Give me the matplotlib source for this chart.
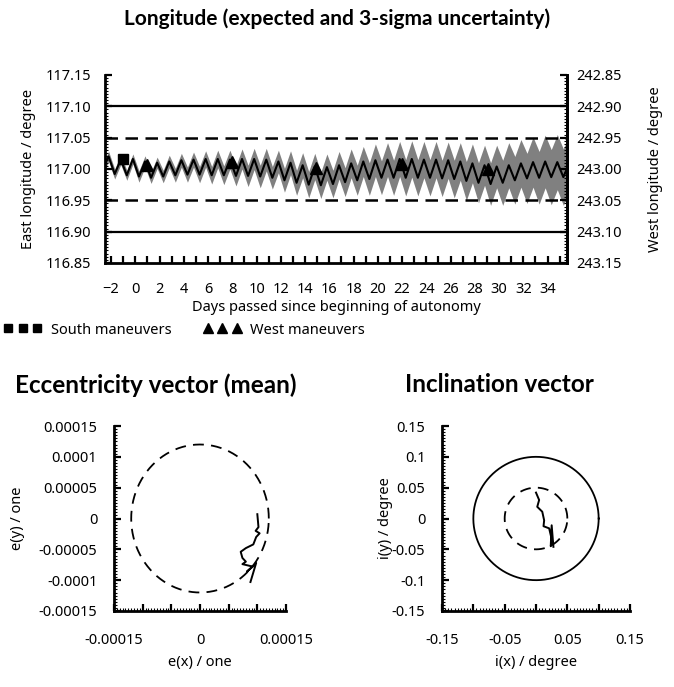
import matplotlib
matplotlib.use("Agg")
import matplotlib.pyplot as plt
import numpy as np
from matplotlib.lines import Line2D
from matplotlib.ticker import MultipleLocator, FixedLocator, FixedFormatter

plt.rcParams['font.family'] = ['Noto Sans', 'DejaVu Sans']

# ---------------- data ----------------
days = list(range(-3, 36))
line_peak = [117.020, 117.015, 117.016, 117.012, 117.010, 117.012, 117.014, 117.015,
             117.016, 117.016, 117.015, 117.016, 117.016, 117.015, 117.012, 117.010,
             117.006, 117.004, 117.003, 117.006, 117.009, 117.012, 117.014, 117.015,
             117.016, 117.016, 117.015, 117.015, 117.014, 117.012, 117.009, 117.006,
             117.004, 117.006, 117.009, 117.011, 117.012, 117.011, 117.010]
line_trough = [117.000, 116.992, 116.990, 116.988, 116.986, 116.988, 116.990, 116.991,
               116.991, 116.990, 116.990, 116.989, 116.989, 116.988, 116.986, 116.982,
               116.978, 116.975, 116.974, 116.976, 116.979, 116.982, 116.984, 116.986,
               116.986, 116.986, 116.986, 116.986, 116.985, 116.984, 116.981, 116.978,
               116.976, 116.978, 116.982, 116.985, 116.986, 116.987, 116.987]
half_width = [0.008, 0.008, 0.008, 0.009, 0.009, 0.010, 0.011, 0.012, 0.013, 0.014,
              0.015, 0.016, 0.017, 0.018, 0.018, 0.019, 0.020, 0.021, 0.021, 0.022,
              0.023, 0.024, 0.026, 0.027, 0.028, 0.029, 0.029, 0.029, 0.029, 0.030,
              0.031, 0.032, 0.034, 0.036, 0.038, 0.040, 0.042, 0.044, 0.045]

south_days = [-1.0]
south_lon = [117.016]
west_days = [0.94, 7.97, 14.94, 22.03, 29.08]
west_lon = [117.006, 117.011, 117.001, 117.008, 117.000]

box_limits = [117.10, 116.90]
dead_band = [117.05, 116.95]

ecc_x = [1.00e-4, 1.02e-4, 0.97e-4, 1.04e-4, 0.98e-4, 0.93e-4, 0.80e-4, 0.71e-4,
         0.74e-4, 0.80e-4, 0.74e-4, 0.92e-4, 0.82e-4, 0.98e-4, 0.88e-4]
ecc_y = [0.07e-4, -0.14e-4, -0.20e-4, -0.24e-4, -0.30e-4, -0.42e-4, -0.48e-4, -0.54e-4,
         -0.64e-4, -0.70e-4, -0.74e-4, -0.78e-4, -0.86e-4, -0.72e-4, -1.03e-4]
ecc_radius = 1.2e-4

inc_x = [0.000, 0.005, 0.002, 0.010, 0.013, 0.012, 0.021, 0.0235, 0.026, 0.0235,
         0.025, 0.0278]
inc_y = [0.042, 0.030, 0.019, 0.011, -0.003, -0.0125, -0.016, -0.027, -0.038, -0.045,
         -0.011, -0.046]
inc_radius_outer = 0.10
inc_radius_inner = 0.05

lon_yticklabels = ['116.85', '116.90', '116.95', '117.00', '117.05', '117.10', '117.15']
west_yticklabels = ['243.15', '243.10', '243.05', '243.00', '242.95', '242.90', '242.85']
ecc_yticklabels = ['-0.00015', '-0.0001', '-0.00005', '0', '0.00005', '0.0001', '0.00015']
ecc_xticklabels = ['-0.00015', '', '', '0', '', '', '0.00015']
inc_yticklabels = ['-0.15', '-0.1', '-0.05', '0', '0.05', '0.1', '0.15']
inc_xticklabels = ['-0.15', '', '-0.05', '', '0.05', '', '0.15']

# ---------------- figure ----------------
W, H = 674, 687
fig = plt.figure(figsize=(W / 100, H / 100), dpi=100)

def frac(l, t, r, b):
    return [l / W, 1 - b / H, (r - l) / W, (b - t) / H]

FS = 10.5
SP = 2.0
TITLE_FONT = ['Lato', 'DejaVu Sans']

def style_axis(a, spines=('left', 'bottom')):
    for s in ['left', 'right', 'top', 'bottom']:
        if s in spines:
            a.spines[s].set_linewidth(SP)
        else:
            a.spines[s].set_visible(False)
    a.tick_params(which='major', direction='in', length=5, width=1.6, labelsize=FS, pad=12)
    a.tick_params(which='minor', direction='in', length=2, width=0.8)

# ---- top chart ----
ax = fig.add_axes(frac(105, 75, 567, 263))
t_knots, v_line, v_hi, v_lo = [], [], [], []
for k, p, tr, w in zip(days, line_peak, line_trough, half_width):
    for off, v in ((0.3, tr), (0.8, p)):
        t_knots.append(k + off)
        v_line.append(v)
        v_hi.append(v + w)
        v_lo.append(v - w)
ax.fill_between(t_knots, v_lo, v_hi, color='#808080', lw=0, zorder=1)
ax.plot(t_knots, v_line, color='black', lw=1.5, zorder=3, solid_joinstyle='round')
for y in box_limits:
    ax.axhline(y, color='black', lw=1.6, zorder=2)
for y in dead_band:
    ax.axhline(y, color='black', lw=1.8, dashes=(5, 3), zorder=2)
ax.plot(south_days, south_lon, 's', color='black', ms=7, zorder=4)
ax.plot(west_days, west_lon, '^', color='black', ms=8, zorder=4)
ax.set_xlim(-2.5, 35.6)
ax.set_ylim(116.85, 117.15)
style_axis(ax, spines=('left', 'bottom', 'right'))
ax.xaxis.set_major_locator(MultipleLocator(2))
ax.xaxis.set_minor_locator(MultipleLocator(1))
ax.tick_params(axis='x', which='minor', length=5, width=1.6)
ax.tick_params(axis='x', which='major', pad=14)
ax.yaxis.set_major_locator(FixedLocator([116.85, 116.90, 116.95, 117.00, 117.05, 117.10, 117.15]))
ax.yaxis.set_major_formatter(FixedFormatter(lon_yticklabels))
ax.yaxis.set_minor_locator(MultipleLocator(0.005))
ax.tick_params(axis='y', which='major', pad=10)
ax.set_xlabel('Days passed since beginning of autonomy', fontsize=FS, labelpad=2)
ax.set_ylabel('East longitude / degree', fontsize=FS)
ax.yaxis.set_label_coords((36 - 105) / 462, 0.5)

ax2 = ax.twinx()
ax2.set_ylim(243.15, 242.85)
style_axis(ax2, spines=('right',))
ax2.spines['right'].set_visible(True)
ax2.yaxis.set_major_locator(FixedLocator([243.15, 243.10, 243.05, 243.00, 242.95, 242.90, 242.85]))
ax2.yaxis.set_major_formatter(FixedFormatter(west_yticklabels))
ax2.yaxis.set_minor_locator(MultipleLocator(0.005))
ax2.tick_params(axis='y', which='major', pad=7)
ax2.set_ylabel('West longitude / degree', fontsize=FS)
ax2.yaxis.set_label_coords((648 - 105) / 462, 0.5)

fig.text(0.5, 1 - 19 / H, 'Longitude (expected and 3-sigma uncertainty)', ha='center', va='center',
         fontsize=15, fontweight='bold', family=TITLE_FONT)

handles = [Line2D([], [], marker='s', ls='none', color='black', ms=6),
           Line2D([], [], marker='^', ls='none', color='black', ms=7)]
fig.legend(handles, ['South maneuvers', 'West maneuvers'], numpoints=3, ncol=2,
           loc='center left', bbox_to_anchor=(1 / W, 1 - 330 / H), frameon=False,
           handlelength=2.6, handletextpad=0.6, columnspacing=2.2, fontsize=FS,
           borderpad=0.2, borderaxespad=0)

# ---- eccentricity ----
axe = fig.add_axes(frac(114, 426, 286, 611))
th = np.linspace(0, 2 * np.pi, 400)
axe.plot(ecc_radius * np.cos(th), ecc_radius * np.sin(th), color='black', lw=1.3, dashes=(6, 4))
axe.plot(ecc_x, ecc_y, color='black', lw=1.4)
axe.set_xlim(-1.5e-4, 1.5e-4)
axe.set_ylim(-1.5e-4, 1.5e-4)
style_axis(axe)
ticks_e = [-1.5e-4, -1e-4, -0.5e-4, 0, 0.5e-4, 1e-4, 1.5e-4]
axe.xaxis.set_major_locator(FixedLocator(ticks_e))
axe.xaxis.set_major_formatter(FixedFormatter(ecc_xticklabels))
axe.yaxis.set_major_locator(FixedLocator(ticks_e))
axe.yaxis.set_major_formatter(FixedFormatter(ecc_yticklabels))
axe.xaxis.set_minor_locator(MultipleLocator(0.5e-5))
axe.yaxis.set_minor_locator(MultipleLocator(0.5e-5))
axe.tick_params(axis='x', pad=16)
axe.set_xlabel('e(x) / one', fontsize=FS, labelpad=5)
axe.set_ylabel('e(y) / one', fontsize=FS)
axe.yaxis.set_label_coords((25 - 114) / 172, 0.5)
fig.text(15 / W, 1 - 385 / H, 'Eccentricity vector (mean)', ha='left', va='center',
         fontsize=17.5, fontweight='bold', family=TITLE_FONT)

# ---- inclination ----
axi = fig.add_axes(frac(442, 426, 630, 611))
axi.plot(inc_radius_outer * np.cos(th), inc_radius_outer * np.sin(th), color='black', lw=1.3)
axi.plot(inc_radius_inner * np.cos(th), inc_radius_inner * np.sin(th), color='black', lw=1.3, dashes=(6, 4))
axi.plot(inc_x, inc_y, color='black', lw=1.4)
axi.set_xlim(-0.15, 0.15)
axi.set_ylim(-0.15, 0.15)
style_axis(axi)
ticks_i = [-0.15, -0.1, -0.05, 0, 0.05, 0.1, 0.15]
axi.xaxis.set_major_locator(FixedLocator(ticks_i))
axi.xaxis.set_major_formatter(FixedFormatter(inc_xticklabels))
axi.yaxis.set_major_locator(FixedLocator(ticks_i))
axi.yaxis.set_major_formatter(FixedFormatter(inc_yticklabels))
axi.xaxis.set_minor_locator(MultipleLocator(0.005))
axi.yaxis.set_minor_locator(MultipleLocator(0.005))
axi.tick_params(axis='x', pad=16)
axi.set_xlabel('i(x) / degree', fontsize=FS, labelpad=5)
axi.set_ylabel('i(y) / degree', fontsize=FS)
axi.yaxis.set_label_coords((393 - 442) / 188, 0.5)
fig.text(405 / W, 1 - 385 / H, 'Inclination vector', ha='left', va='center',
         fontsize=17.5, fontweight='bold', family=TITLE_FONT)

fig.savefig('out.png', dpi=100, facecolor='white')
